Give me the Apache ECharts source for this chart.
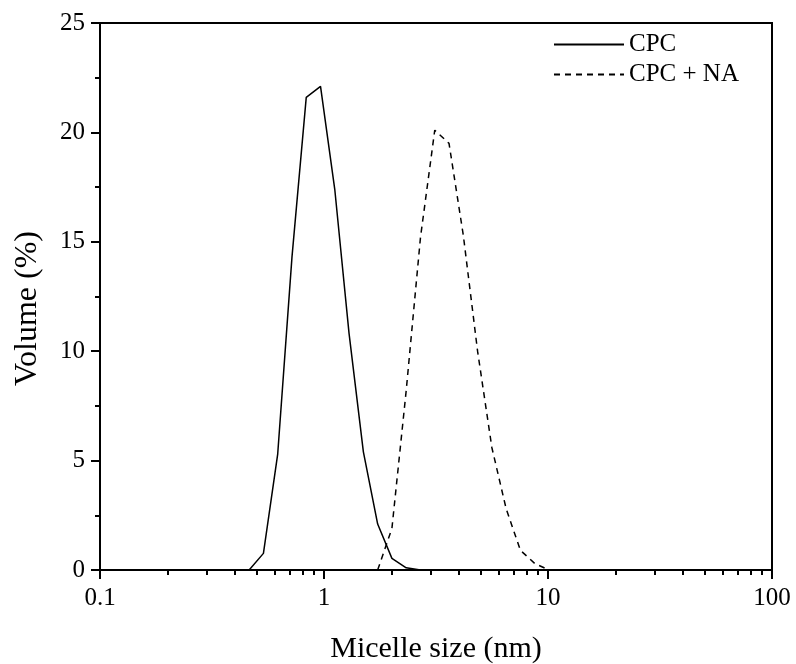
<!DOCTYPE html>
<html>
<head>
<meta charset="utf-8">
<script src="https://cdn.jsdelivr.net/npm/echarts@6/dist/echarts.min.js"></script>
<style>html,body{margin:0;padding:0;background:#fff;}#c{width:796px;height:664px;}</style>
</head>
<body>
<div id="c"></div>
<script>
// Micelle size bins (nm)
const sizes = [0.4, 0.4632, 0.5365, 0.6213, 0.7195, 0.8332, 0.9649, 1.117, 1.294, 1.499, 1.736, 2.01, 2.328, 2.696, 3.122, 3.615, 4.187, 4.849, 5.615, 6.503, 7.531, 8.721, 10.1, 11.7, 13.54, 15.69, 18.17, 21.04, 24.36, 28.21, 32.67, 37.84, 43.82, 50.75, 58.77, 68.06, 78.82, 91.28];
// Volume (%)
const cpc = [0, 0, 0.76, 5.3, 14.3, 21.6, 22.1, 17.4, 10.8, 5.4, 2.1, 0.53, 0.1, 0, 0, 0, 0, 0, 0, 0, 0, 0, 0, 0, 0, 0, 0, 0, 0, 0, 0, 0, 0, 0, 0, 0, 0, 0];
const cpcNa = [0, 0, 0, 0, 0, 0, 0, 0, 0, 0, 0, 1.9, 8.2, 15.2, 20.1, 19.5, 15.3, 10.0, 5.6, 2.8, 0.9, 0.3, 0, 0, 0, 0, 0, 0, 0, 0, 0, 0, 0, 0, 0, 0, 0, 0];
const seriesNames = ['CPC', 'CPC + NA'];
const xMajorTicks = [0.1, 1, 10, 100];
const xMinorTicks = [0.2, 0.3, 0.4, 0.5, 0.6, 0.7, 0.8, 0.9, 2, 3, 4, 5, 6, 7, 8, 9, 20, 30, 40, 50, 60, 70, 80, 90];

const font = 'Liberation Serif';
const chart = echarts.init(document.getElementById('c'), null, {renderer: 'canvas'});
const pair = (ys) => sizes.map((x, i) => [x, ys[i]]);

chart.setOption({
  animation: false,
  backgroundColor: '#fff',
  textStyle: {fontFamily: font, color: '#000'},
  grid: {left: 100, right: 24, top: 23, bottom: 94, show: true, borderColor: '#000', borderWidth: 2,
    backgroundColor: 'transparent', outerBoundsMode: 'none', containLabel: false},
  legend: {
    orient: 'vertical', left: 548, top: 27, itemWidth: 70, itemHeight: 14, itemGap: 5,
    itemStyle: {color: 'rgba(0,0,0,0)', borderWidth: 0, opacity: 0},
    textStyle: {fontFamily: font, fontSize: 25, color: '#000'},
    data: seriesNames
  },
  xAxis: [{
    type: 'log', logBase: 10, min: 0.1, max: 100,
    name: 'Micelle size (nm)', nameLocation: 'middle', nameGap: 64,
    nameTextStyle: {fontFamily: font, fontSize: 30, color: '#000'},
    axisLine: {show: true, lineStyle: {color: '#000', width: 2}},
    axisTick: {show: true, length: 9, lineStyle: {color: '#000', width: 2}, customValues: xMajorTicks},
    axisLabel: {fontFamily: font, fontSize: 25, color: '#000', margin: 16, customValues: xMajorTicks,
      formatter: (v) => String(v)},
    splitLine: {show: false}
  }, {
    type: 'log', logBase: 10, min: 0.1, max: 100, position: 'bottom',
    axisLine: {show: false},
    axisTick: {show: true, length: 5, lineStyle: {color: '#000', width: 2}, customValues: xMinorTicks},
    axisLabel: {show: false},
    splitLine: {show: false}
  }],
  yAxis: {
    type: 'value', min: 0, max: 25, interval: 5,
    name: 'Volume (%)', nameLocation: 'middle', nameGap: 56,
    nameTextStyle: {fontFamily: font, fontSize: 32, color: '#000', padding: [0, 24, 0, 0]},
    axisLine: {show: true, lineStyle: {color: '#000', width: 2}},
    axisTick: {show: true, length: 9, lineStyle: {color: '#000', width: 2}},
    minorTick: {show: true, splitNumber: 2, length: 5, lineStyle: {color: '#000', width: 2}},
    axisLabel: {fontFamily: font, fontSize: 25, color: '#000', margin: 15},
    splitLine: {show: false}
  },
  series: [{
    name: seriesNames[0], type: 'line', data: pair(cpc), symbol: 'none', showSymbol: false,
    lineStyle: {color: '#000', width: 1.5, type: 'solid'}, itemStyle: {color: '#000'}
  }, {
    name: seriesNames[1], type: 'line', data: pair(cpcNa), symbol: 'none', showSymbol: false,
    lineStyle: {color: '#000', width: 1.5, type: [6, 5]}, itemStyle: {color: '#000'}
  }]
});
</script>
</body>
</html>
